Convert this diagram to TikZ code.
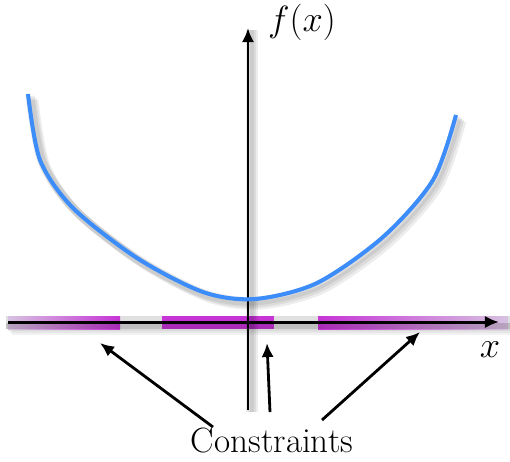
\documentclass[tikz,border=0pt]{standalone}
\usetikzlibrary{arrows.meta}
\begin{document}
\begin{tikzpicture}[x=0.02cm,y=-0.02cm]
        \definecolor{curveblue}{RGB}{60,140,250}
        \definecolor{constrmag}{RGB}{198,52,214}
        \definecolor{constrlav}{RGB}{214,194,224}
        \tikzset{
            bigtext/.style={font=\fontsize{20}{24}\selectfont},
            softshadow/.style={black,opacity=0.07,line width=#1},
            pointer/.style={-{Latex[length=8pt,width=7pt]},line width=1.6pt}
        }
        \useasboundingbox (0,0) rectangle (510,461);

        % band behind the x axis
        \foreach \d in {2,4,6}
            \fill[black,opacity=0.05] (6+\d,316+\d) rectangle (510,329+\d);
        \fill[black!12] (6,316) rectangle (510,329);
        \shade[left color=constrlav,right color=constrmag] (8,316) rectangle (120,329);
        \fill[constrmag] (162,316) rectangle (274,329);
        \shade[left color=constrmag,right color=constrlav] (318,316) rectangle (508,329);
        \fill[black,opacity=0.15] (6,323) rectangle (510,329);

        % axes
        \coordinate (xl) at (8,322);
        \coordinate (xr) at (499,322);
        \coordinate (yb) at (248,410);
        \coordinate (yt) at (248,28);

        \foreach \d in {2,4,6}
            \draw[softshadow=4pt] ([shift={(\d,2)}]yb) -- ([shift={(\d,2)}]yt);

        \draw[-{Latex[length=8pt,width=7pt]},line width=1.7pt] (xl) -- (xr);
        \draw[-{Latex[length=8pt,width=7pt]},line width=1.7pt] (yb) -- (yt);

        \node[bigtext] (fx) at (302,22) {$f(x)$};
        \node[bigtext] (xlab) at (490,350) {$x$};

        % curve
        \foreach \d in {2,4,6}
            \draw[softshadow=5pt,smooth,shift={(\d,\d)}]
                plot coordinates {(28,94) (40,160) (73,208) (137,258) (203,292)
                (255,299) (317,283) (383,237) (433,180) (456,115)};

        \draw[curveblue,line width=2.3pt,smooth]
            plot coordinates {(28,94) (40,160) (73,208) (137,258) (203,292)
            (255,299) (317,283) (383,237) (433,180) (456,115)};

        % constraints
        \node[bigtext] (cons) at (272,440) {Constraints};
        \coordinate (c1) at (100,343);
        \coordinate (c2) at (267,343);
        \coordinate (c3) at (420,332);

        \draw[pointer] (213,427) -- (c1);
        \draw[pointer] (270,412) -- (c2);
        \draw[pointer] (322,420) -- (c3);
\end{tikzpicture}
\end{document}
